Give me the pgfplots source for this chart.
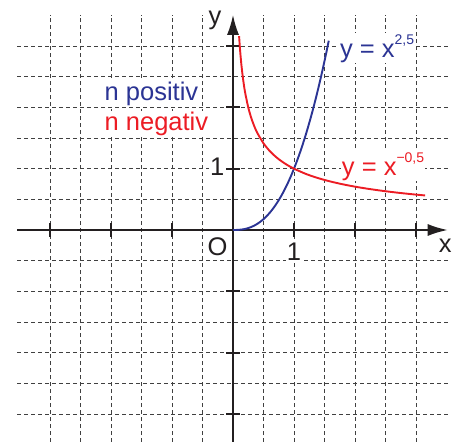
\documentclass[border=0pt]{standalone}
\usepackage{pgfplots}
\pgfplotsset{compat=1.18}
\usepackage{fontspec}
\setmainfont{Liberation Sans}
\usetikzlibrary{arrows.meta}
\definecolor{cblue}{RGB}{43,52,148}
\definecolor{cred}{RGB}{236,28,36}
\definecolor{caxis}{RGB}{35,31,32}
\tikzset{lbl/.style={fill=white, inner sep=1pt, outer sep=0pt}}
\begin{document}
\begin{tikzpicture}
\path[use as bounding box] (-233pt,-211pt) rectangle (232pt,230pt);
\begin{axis}[
  anchor=origin, at={(0pt,0pt)},
  x=61pt, y=61.3pt,
  xmin=-3.54, xmax=3.52, ymin=-3.46, ymax=3.51,
  axis lines=middle,
  axis line style={line width=1.8pt, caxis, -{Latex[length=20pt,width=12pt]}},
  xtick={-3,-2,-1,1,2,3}, ytick={-3,-2,-1,1,2,3},
  minor xtick={-2.5,-1.5,-0.5,0.5,1.5,2.5},
  minor ytick={-2.5,-1.5,-0.5,0.5,1.5,2.5},
  xticklabels={,,,,,,}, yticklabels={,,,,,,},
  tick align=center,
  major tick length=14pt, minor tick length=0pt,
  major tick style={line width=1.8pt, caxis},
  grid=both,
  major grid style={black!75, line width=0.7pt, dash pattern=on 4pt off 3pt},
  minor grid style={black!75, line width=0.7pt, dash pattern=on 4pt off 3pt},
  clip=false,
  font=\fontsize{25.5}{30}\selectfont,
]
\addplot[cblue, line width=1.9pt, smooth] coordinates {
(0,0) (0.05,0.000559) (0.1,0.00316) (0.15,0.008714) (0.2,0.01789) (0.25,0.03125)
(0.3,0.04930) (0.35,0.07247) (0.4,0.10119) (0.45,0.13584) (0.5,0.17678)
(0.55,0.22434) (0.6,0.27885) (0.65,0.34063) (0.7,0.40996) (0.75,0.48714)
(0.8,0.57243) (0.85,0.66611) (0.9,0.76843) (0.95,0.87965) (1.0,1)
(1.05,1.12973) (1.1,1.26906) (1.15,1.41822) (1.2,1.57744) (1.25,1.74693)
(1.3,1.92690) (1.35,2.11756) (1.4,2.31911) (1.45,2.53175) (1.5,2.75568)
(1.53,2.89553) (1.57,3.08852)
};
\addplot[cred, line width=1.9pt, smooth] coordinates {
(0.10,3.16228) (0.11,3.01511) (0.12,2.88675) (0.13,2.77350) (0.14,2.67261)
(0.16,2.5) (0.18,2.35702) (0.20,2.23607) (0.25,2) (0.30,1.82574) (0.35,1.69031)
(0.40,1.58114) (0.50,1.41421) (0.60,1.29099) (0.70,1.19523) (0.80,1.11803)
(0.90,1.05409) (1.0,1) (1.2,0.91287) (1.4,0.84515) (1.6,0.79057) (1.8,0.74536)
(2.0,0.70711) (2.2,0.67420) (2.4,0.64550) (2.6,0.62017) (2.8,0.59761)
(3.0,0.57735) (3.15,0.56344)
};
\node[lbl, anchor=base west, text=cblue] at (axis cs:-2.12,2.12) {n positiv};
\node[lbl, anchor=base west, text=cred] at (axis cs:-2.12,1.63) {n negativ};
\node[lbl, anchor=base west, text=cblue] at (axis cs:1.74,2.82) {y = x\raisebox{13pt}{\fontsize{14}{16}\selectfont 2,5}};
\node[lbl, anchor=base west, text=cred] at (axis cs:1.77,0.897) {y = x\raisebox{13pt}{\fontsize{14}{16}\selectfont −0,5}};
\node[lbl, anchor=base, text=caxis] at (axis cs:-0.295,3.36) {y};
\node[lbl, anchor=base, text=caxis] at (axis cs:3.48,-0.375) {x};
\node[lbl, anchor=base, text=caxis] at (axis cs:-0.254,-0.41) {O};
\node[lbl, anchor=base, text=caxis] at (axis cs:1.0,-0.49) {1};
\node[lbl, anchor=base, text=caxis] at (axis cs:-0.26,0.897) {1};
\end{axis}
\end{tikzpicture}
\end{document}
